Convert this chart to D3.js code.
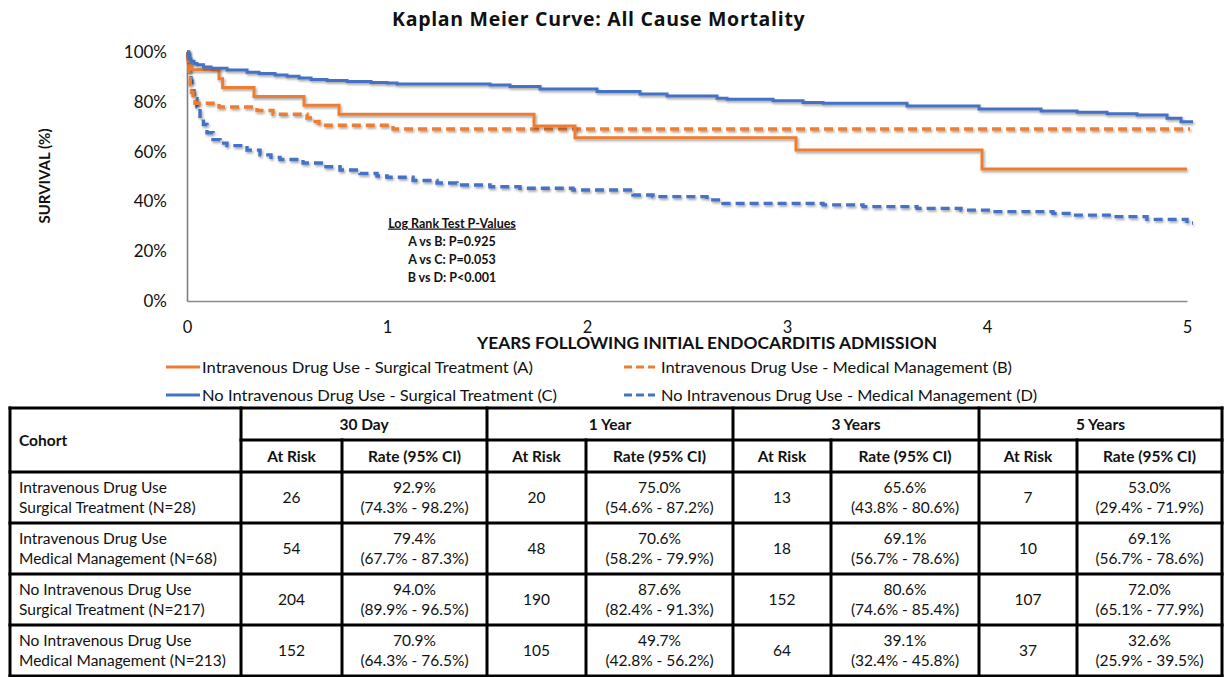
<!DOCTYPE html>
<html><head><meta charset="utf-8">
<script src="https://cdn.jsdelivr.net/npm/d3@7"></script>
<style>body{margin:0;background:#fff;} svg{display:block;}</style>
</head><body>
<svg id="chart" width="1224" height="677"></svg>
<script>
// ---------------- data ----------------
const chartTitle = "Kaplan Meier Curve: All Cause Mortality";
const yTitle = "SURVIVAL (%)";
const xTitle = "YEARS FOLLOWING INITIAL ENDOCARDITIS ADMISSION";
const xTicks = [0, 1, 2, 3, 4, 5];
const yTicks = [0, 20, 40, 60, 80, 100];

const seriesNames = [
  "Intravenous Drug Use - Surgical Treatment (A)",
  "Intravenous Drug Use - Medical Management (B)",
  "No Intravenous Drug Use - Surgical Treatment (C)",
  "No Intravenous Drug Use - Medical Management (D)"
];
const seriesColors = ["#ED7D31", "#ED7D31", "#4472C4", "#4472C4"];
const seriesDashed = [false, true, false, true];

// A: IVDU surgical (years, survival %)
const timesA = [0, 0.005, 0.02, 0.16, 0.178, 0.335, 0.585, 0.76, 1.735, 1.94, 3.045, 3.975, 5.0];
const survA  = [100, 96.4, 92.9, 89.3, 85.7, 82.1, 78.6, 75.0, 70.3, 65.6, 60.6, 53.0, 53.0];
// B: IVDU medical
const timesB = [0, 0.004, 0.01, 0.016, 0.022, 0.03, 0.04, 0.16, 0.35, 0.43, 0.6, 0.63, 0.66, 1.03, 5.015];
const survB  = [100, 95.6, 91.2, 86.8, 83.8, 80.9, 79.4, 77.9, 76.5, 75.0, 73.5, 72.1, 70.6, 69.1, 69.1];
// C: no IVDU surgical
const timesC = [0, 0.005, 0.01, 0.02, 0.035, 0.05, 0.082, 0.12, 0.2, 0.3, 0.36, 0.44, 0.5, 0.56, 0.62, 0.7, 0.8, 0.92, 1.0, 1.05, 1.515, 1.615, 1.765, 2.05, 2.265, 2.4, 2.65, 2.7, 2.93, 3.08, 3.18, 3.6, 3.96, 4.27, 4.45, 4.6, 4.75, 4.9, 4.97, 5.03];
const survC  = [100, 98.6, 97.2, 96.3, 95.4, 94.9, 94.0, 93.5, 92.8, 91.9, 91.4, 90.8, 90.3, 89.6, 89.0, 88.6, 88.2, 87.8, 87.6, 87.1, 86.7, 86.1, 85.1, 84.1, 83.1, 82.3, 81.4, 81.0, 80.4, 79.7, 79.4, 78.3, 77.1, 76.3, 75.8, 75.2, 74.7, 73.4, 72.0, 72.0];
// D: no IVDU medical
const timesD = [0, 0.008, 0.015, 0.02, 0.025, 0.035, 0.05, 0.065, 0.082, 0.1, 0.13, 0.165, 0.2, 0.3, 0.365, 0.42, 0.465, 0.58, 0.68, 0.765, 0.865, 0.95, 1.0, 1.13, 1.25, 1.35, 1.515, 1.665, 1.93, 2.23, 2.33, 2.6, 2.68, 3.18, 3.38, 3.65, 3.87, 4.02, 4.33, 4.42, 4.62, 4.8, 5.0, 5.03];
const survD  = [100, 96.2, 92.0, 88.3, 84.5, 81.2, 78.0, 74.2, 70.9, 67.6, 64.8, 63.4, 62.4, 60.6, 58.7, 57.7, 56.8, 55.4, 53.9, 52.6, 51.2, 50.2, 49.7, 48.4, 47.4, 46.6, 45.9, 45.3, 44.6, 42.6, 41.9, 40.6, 39.2, 38.6, 37.9, 37.2, 36.5, 35.9, 35.2, 34.5, 33.9, 32.8, 31.3, 31.3];

const pValueTitle = "Log Rank Test P-Values";
const pValueLines = ["A vs B: P=0.925", "A vs C: P=0.053", "B vs D: P<0.001"];

// table
const periods = ["30 Day", "1 Year", "3 Years", "5 Years"];
const subHeaders = ["At Risk", "Rate (95% CI)"];
const cohortLine1 = ["Intravenous Drug Use", "Intravenous Drug Use", "No Intravenous Drug Use", "No Intravenous Drug Use"];
const cohortLine2 = ["Surgical Treatment (N=28)", "Medical Management (N=68)", "Surgical Treatment (N=217)", "Medical Management (N=213)"];
const atRiskA = [26, 20, 13, 7];
const atRiskB = [54, 48, 18, 10];
const atRiskC = [204, 190, 152, 107];
const atRiskD = [152, 105, 64, 37];
const rateA = ["92.9%", "75.0%", "65.6%", "53.0%"];
const rateB = ["79.4%", "70.6%", "69.1%", "69.1%"];
const rateC = ["94.0%", "87.6%", "80.6%", "72.0%"];
const rateD = ["70.9%", "49.7%", "39.1%", "32.6%"];
const ciA = ["(74.3% - 98.2%)", "(54.6% - 87.2%)", "(43.8% - 80.6%)", "(29.4% - 71.9%)"];
const ciB = ["(67.7% - 87.3%)", "(58.2% - 79.9%)", "(56.7% - 78.6%)", "(56.7% - 78.6%)"];
const ciC = ["(89.9% - 96.5%)", "(82.4% - 91.3%)", "(74.6% - 85.4%)", "(65.1% - 77.9%)"];
const ciD = ["(64.3% - 76.5%)", "(42.8% - 56.2%)", "(32.4% - 45.8%)", "(25.9% - 39.5%)"];

// ---------------- drawing ----------------
const svg = d3.select("#chart");
const FONT = "Lato, 'Open Sans', sans-serif";

const defs = svg.append("defs");
const f = defs.append("filter").attr("id", "shadow").attr("x", "-5%").attr("y", "-20%").attr("width", "110%").attr("height", "140%");
f.append("feDropShadow").attr("dx", 1.2).attr("dy", 1.8).attr("stdDeviation", 1.1)
  .attr("flood-color", "#000").attr("flood-opacity", 0.35);

const x = d3.scaleLinear().domain([0, 5]).range([187, 1187]);
const y = d3.scaleLinear().domain([0, 100]).range([301, 52]);

// title
svg.append("text").attr("x", 392).attr("y", 26)
  .attr("font-family", "'Open Sans', sans-serif").attr("font-weight", 700).attr("font-size", 19.5)
  .attr("letter-spacing", 0.7)
  .attr("fill", "#111").text(chartTitle);

// axes
const xAxis = svg.append("g").attr("transform", `translate(0,${y(0)})`)
  .call(d3.axisBottom(x).tickValues(xTicks).tickSize(0).tickPadding(20).tickFormat(d3.format("d")));
xAxis.select(".domain").attr("stroke", "#8c8c8c").attr("stroke-width", 1.3);
xAxis.selectAll("text").attr("font-family", FONT).attr("font-size", 16.5).attr("fill", "#111");

const yAxis = svg.append("g").attr("transform", `translate(${x(0)},0)`)
  .call(d3.axisLeft(y).tickValues(yTicks).tickSize(0).tickPadding(20).tickFormat(d => d + "%"));
yAxis.select(".domain").attr("stroke", "#7f7f7f").attr("stroke-width", 1.6);
yAxis.selectAll("text").attr("font-family", FONT).attr("font-size", 17).attr("fill", "#111");

// axis titles
svg.append("text").attr("transform", "translate(50,176) rotate(-90)")
  .attr("text-anchor", "middle").attr("font-family", FONT).attr("font-weight", 700)
  .attr("font-size", 15).attr("fill", "#111").text(yTitle);
svg.append("text").attr("x", 477).attr("y", 348.5)
  .attr("font-family", FONT).attr("font-weight", 700).attr("font-size", 17.5)
  .attr("textLength", 460).attr("lengthAdjust", "spacingAndGlyphs")
  .attr("fill", "#111").text(xTitle);

// curves
const allTimes = [timesA, timesB, timesC, timesD];
const allSurv = [survA, survB, survC, survD];
const line = d3.line().x(d => x(d[0])).y(d => y(d[1])).curve(d3.curveStepAfter);
const drawOrder = [3, 1, 0, 2];
drawOrder.forEach(i => {
  const pts = allTimes[i].map((t, k) => [t, allSurv[i][k]]);
  svg.append("path").datum(pts).attr("d", line)
    .attr("fill", "none").attr("stroke", seriesColors[i])
    .attr("stroke-width", seriesDashed[i] ? 3.4 : 3)
    .attr("stroke-dasharray", seriesDashed[i] ? "9,5" : null)
    .attr("filter", "url(#shadow)");
});

// p-values
const pv = svg.append("g").attr("font-family", FONT).attr("font-weight", 700)
  .attr("font-size", 12.5).attr("fill", "#111").attr("text-anchor", "middle");
pv.append("text").attr("x", 452).attr("y", 227.5).attr("text-decoration", "underline").text(pValueTitle);
pValueLines.forEach((t, i) => pv.append("text").attr("x", 452).attr("y", 245.5 + i * 18).text(t));

// legend
const legX = [[166, 200, 202], [624, 655, 661]];
const legY = [367, 395];
const legLen = [331, 351, 355, 376];
seriesNames.forEach((name, i) => {
  const col = i % 2, row = Math.floor(i / 2);
  const [lx1, lx2, tx] = legX[col];
  svg.append("line").attr("x1", lx1).attr("x2", lx2).attr("y1", legY[row]).attr("y2", legY[row])
    .attr("stroke", seriesColors[i]).attr("stroke-width", 3)
    .attr("stroke-dasharray", seriesDashed[i] ? "8,4" : null);
  svg.append("text").attr("x", tx).attr("y", legY[row] + 5.5)
    .attr("font-family", FONT).attr("font-size", 15).attr("fill", "#111")
    .attr("textLength", legLen[i]).attr("lengthAdjust", "spacingAndGlyphs").text(name);
});

// table
const colEdges = [10, 241, 342, 487, 586, 733, 831, 979, 1077, 1222];
const rowEdges = [408, 440, 472, 523, 574, 625, 676];
const tbl = svg.append("g");
function hline(yv, x1, x2) { tbl.append("line").attr("x1", x1).attr("x2", x2).attr("y1", yv).attr("y2", yv).attr("stroke", "#000").attr("stroke-width", 3).attr("stroke-linecap", "square"); }
function vline(xv, y1, y2) { tbl.append("line").attr("x1", xv).attr("x2", xv).attr("y1", y1).attr("y2", y2).attr("stroke", "#000").attr("stroke-width", 3).attr("stroke-linecap", "square"); }
const tTop = rowEdges[0], tBot = rowEdges[rowEdges.length - 1];
hline(tTop, colEdges[0], colEdges[9]);
hline(tBot, colEdges[0], colEdges[9]);
hline(rowEdges[1], colEdges[1], colEdges[9]);
for (let r = 2; r < rowEdges.length - 1; r++) hline(rowEdges[r], colEdges[0], colEdges[9]);
[0, 1, 3, 5, 7, 9].forEach(c => vline(colEdges[c], tTop, tBot));
[2, 4, 6, 8].forEach(c => vline(colEdges[c], rowEdges[1], tBot));

const tt = svg.append("g").attr("font-family", FONT).attr("font-size", 15.5).attr("fill", "#111");
function cellText(txt, cx, cy, opts = {}) {
  tt.append("text").attr("x", cx).attr("y", cy + 5.5)
    .attr("text-anchor", opts.anchor || "middle")
    .attr("font-weight", opts.bold ? 700 : 400).text(txt);
}
cellText("Cohort", 19, (rowEdges[0] + rowEdges[2]) / 2, { anchor: "start", bold: true });
periods.forEach((p, i) => {
  const c0 = colEdges[1 + 2 * i], c1 = colEdges[2 + 2 * i], c2 = colEdges[3 + 2 * i];
  cellText(p, (c0 + c2) / 2, (rowEdges[0] + rowEdges[1]) / 2, { bold: true });
  cellText(subHeaders[0], (c0 + c1) / 2, (rowEdges[1] + rowEdges[2]) / 2, { bold: true });
  cellText(subHeaders[1], (c1 + c2) / 2, (rowEdges[1] + rowEdges[2]) / 2, { bold: true });
});
const atRiskAll = [atRiskA, atRiskB, atRiskC, atRiskD];
const rateAll = [rateA, rateB, rateC, rateD];
const ciAll = [ciA, ciB, ciC, ciD];
cohortLine1.forEach((c1txt, r) => {
  const cy = (rowEdges[2 + r] + rowEdges[3 + r]) / 2;
  cellText(c1txt, 19, cy - 10, { anchor: "start" });
  cellText(cohortLine2[r], 19, cy + 10, { anchor: "start" });
  periods.forEach((p, i) => {
    const c0 = colEdges[1 + 2 * i], c1 = colEdges[2 + 2 * i], c2 = colEdges[3 + 2 * i];
    cellText(String(atRiskAll[r][i]), (c0 + c1) / 2, cy);
    cellText(rateAll[r][i], (c1 + c2) / 2, cy - 10);
    cellText(ciAll[r][i], (c1 + c2) / 2, cy + 10);
  });
});
</script>
</body></html>
